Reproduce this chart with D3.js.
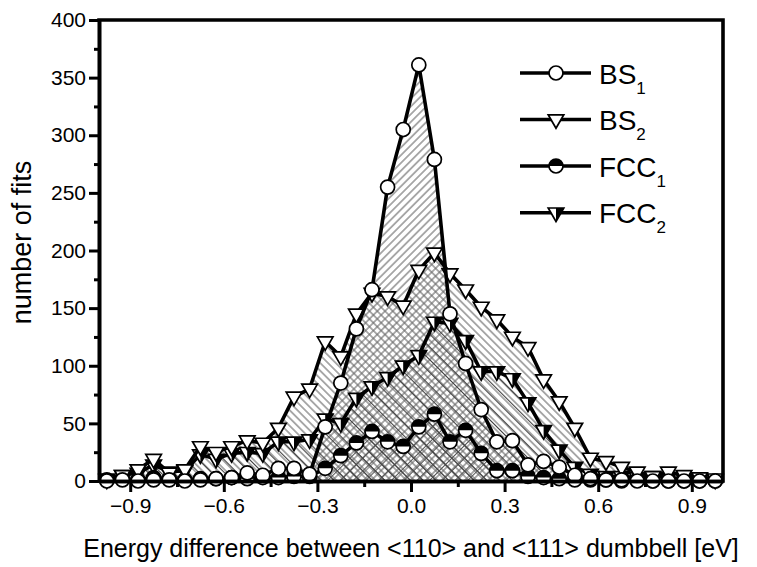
<!DOCTYPE html>
<html>
<head>
<meta charset="utf-8">
<script src="https://cdn.jsdelivr.net/npm/d3@7"></script>
<style>
  html, body { margin: 0; padding: 0; background: #fff; }
  svg { display: block; font-family: "Liberation Sans", Arial, sans-serif; }
</style>
</head>
<body>
<svg id="chart" width="757" height="567"></svg>
<script>
// Bin centres of the energy difference histogram [eV]
const energy = [
  -0.975, -0.925, -0.875, -0.825, -0.775, -0.725, -0.675, -0.625, -0.575, -0.525,
  -0.475, -0.425, -0.375, -0.325, -0.275, -0.225, -0.175, -0.125, -0.075, -0.025,
   0.025,  0.075,  0.125,  0.175,  0.225,  0.275,  0.325,  0.375,  0.425,  0.475,
   0.525,  0.575,  0.625,  0.675,  0.725,  0.775,  0.825,  0.875,  0.925,  0.975
];

// Number of fits per bin for each parametrisation
const bs1 = [
  0, 1, 0, 1, 1, 0, 1, 2, 3, 7,
  5, 11, 11, 6, 47, 85, 132, 166, 255, 305,
  361, 279, 145, 102, 62, 34, 35, 14, 17, 12,
  5, 2, 1, 1, 0, 0, 0, 0, 0, 0
];
const bs2 = [
  1, 5, 10, 19, 7, 10, 30, 25, 30, 35,
  33, 46, 73, 80, 121, 108, 145, 163, 160, 152,
  183, 198, 180, 166, 151, 140, 125, 116, 88, 69,
  46, 20, 17, 12, 8, 4, 8, 5, 3, 2
];
const fcc1 = [
  1, 2, 1, 3, 2, 1, 2, 2, 3, 2,
  3, 3, 4, 4, 11, 22, 33, 43, 34, 30,
  47, 58, 34, 44, 24, 9, 9, 4, 3, 2,
  1, 1, 1, 0, 1, 0, 0, 0, 0, 0
];
const fcc2 = [
  2, 5, 7, 14, 8, 9, 23, 19, 24, 25,
  24, 34, 34, 36, 54, 50, 72, 82, 90, 100,
  109, 138, 137, 122, 95, 95, 89, 68, 44, 27,
  12, 6, 4, 4, 3, 4, 3, 2, 2, 1
];

const seriesNames = ["BS", "BS", "FCC", "FCC"];
const seriesSubs = ["1", "2", "1", "2"];

const xMajorTicks = [-0.9, -0.6, -0.3, 0.0, 0.3, 0.6, 0.9];
const xMinorTicks = [-0.75, -0.45, -0.15, 0.15, 0.45, 0.75];
const yMajorTicks = [0, 50, 100, 150, 200, 250, 300, 350, 400];
const yMinorTicks = [25, 75, 125, 175, 225, 275, 325, 375];

const svg = d3.select("#chart");
const plot = { left: 99, right: 723, top: 20, bottom: 481 };

const x = d3.scaleLinear().domain([-1, 1]).range([plot.left, plot.right]);
const y = d3.scaleLinear().domain([0, 400]).range([plot.bottom, plot.top]);

// Hatch patterns for the areas under each curve
const defs = svg.append("defs");
function hatch(id, angle, spacing, color, width) {
  const p = defs.append("pattern")
    .attr("id", id)
    .attr("patternUnits", "userSpaceOnUse")
    .attr("width", spacing).attr("height", spacing)
    .attr("patternTransform", `rotate(${angle})`);
  p.append("line")
    .attr("x1", 0).attr("y1", spacing / 2)
    .attr("x2", spacing).attr("y2", spacing / 2)
    .attr("stroke", color).attr("stroke-width", width);
}
hatch("hatch-bs1", -45, 5.5, "#6a6a6a", 1.1);
hatch("hatch-bs2", 45, 5.5, "#6a6a6a", 1.1);
hatch("hatch-fcc1a", -45, 9, "#555", 1);
hatch("hatch-fcc1b", 45, 9, "#555", 1);
hatch("hatch-fcc2", 45, 9, "#444", 1.1);

const series = [
  { key: "bs1", values: bs1, fills: ["hatch-bs1"] },
  { key: "bs2", values: bs2, fills: ["hatch-bs2"] },
  { key: "fcc1", values: fcc1, fills: ["hatch-fcc1a", "hatch-fcc1b"] },
  { key: "fcc2", values: fcc2, fills: ["hatch-fcc2"] }
];

const area = d3.area()
  .x((d, i) => x(energy[i]))
  .y0(y(0))
  .y1(d => y(d));
const line = d3.line()
  .x((d, i) => x(energy[i]))
  .y(d => y(d));

const gAreas = svg.append("g");
series.forEach(s => {
  s.fills.forEach(f => {
    gAreas.append("path")
      .attr("d", area(s.values))
      .attr("fill", `url(#${f})`)
      .attr("stroke", "none");
  });
});

// Marker drawing helpers
const R = 7;
const TW = 7.8, TT = 4.7, TB = 8.8;
function drawCircle(g, cx, cy) {
  g.append("circle").attr("cx", cx).attr("cy", cy).attr("r", R)
    .attr("fill", "#fff").attr("stroke", "#000").attr("stroke-width", 1.7);
}
function triPath(cx, cy) {
  return `M${cx - TW},${cy - TT}L${cx + TW},${cy - TT}L${cx},${cy + TB}Z`;
}
function drawTriangle(g, cx, cy) {
  g.append("path").attr("d", triPath(cx, cy))
    .attr("fill", "#fff").attr("stroke", "#000").attr("stroke-width", 1.7);
}
function drawHalfCircle(g, cx, cy) {
  g.append("circle").attr("cx", cx).attr("cy", cy).attr("r", R).attr("fill", "#fff");
  g.append("path")
    .attr("d", `M${cx - R},${cy}A${R},${R} 0 0 1 ${cx + R},${cy}Z`)
    .attr("fill", "#000");
  g.append("circle").attr("cx", cx).attr("cy", cy).attr("r", R)
    .attr("fill", "none").attr("stroke", "#000").attr("stroke-width", 1.7);
}
function drawHalfTriangle(g, cx, cy) {
  g.append("path").attr("d", triPath(cx, cy)).attr("fill", "#fff");
  g.append("path")
    .attr("d", `M${cx},${cy - TT}L${cx + TW},${cy - TT}L${cx},${cy + TB}Z`)
    .attr("fill", "#000");
  g.append("path").attr("d", triPath(cx, cy))
    .attr("fill", "none").attr("stroke", "#000").attr("stroke-width", 1.7);
}
const markers = {
  bs1: drawCircle,
  bs2: drawTriangle,
  fcc1: drawHalfCircle,
  fcc2: drawHalfTriangle
};

// Lines and symbols, back to front
const drawOrder = ["fcc2", "fcc1", "bs2", "bs1"];
drawOrder.forEach(k => {
  const s = series.find(t => t.key === k);
  const g = svg.append("g");
  g.append("path")
    .attr("d", line(s.values))
    .attr("fill", "none").attr("stroke", "#000")
    .attr("stroke-width", 3.6).attr("stroke-linejoin", "round");
  s.values.forEach((v, i) => markers[k](g, x(energy[i]), y(v)));
});

// Axes
const axisW = 3.6;
svg.append("g").attr("transform", `translate(0,${plot.bottom})`)
  .call(d3.axisBottom(x).tickValues(xMajorTicks).tickSize(11).tickSizeOuter(0)
    .tickFormat(d3.format(".1f")).tickPadding(6));
svg.append("g").attr("transform", `translate(0,${plot.bottom})`)
  .call(d3.axisBottom(x).tickValues(xMinorTicks).tickSize(6).tickSizeOuter(0).tickFormat(""));
svg.append("g").attr("transform", `translate(${plot.left},0)`)
  .call(d3.axisLeft(y).tickValues(yMajorTicks).tickSize(10).tickSizeOuter(0).tickPadding(3));
svg.append("g").attr("transform", `translate(${plot.left},0)`)
  .call(d3.axisLeft(y).tickValues(yMinorTicks).tickSize(5).tickSizeOuter(0).tickFormat(""));

svg.selectAll(".domain").attr("stroke", "#000").attr("stroke-width", axisW);
svg.selectAll(".tick line").attr("stroke", "#000").attr("stroke-width", 3);
svg.selectAll(".tick text")
  .attr("fill", "#000")
  .style("font-family", "'Liberation Sans', Arial, sans-serif")
  .style("font-size", "21px");

// Frame on top and right
svg.append("path")
  .attr("d", `M${plot.left},${plot.top}H${plot.right}V${plot.bottom}`)
  .attr("fill", "none").attr("stroke", "#000").attr("stroke-width", axisW)
  .attr("stroke-linecap", "square");

// Axis titles
svg.append("text")
  .attr("x", 411).attr("y", 557)
  .attr("text-anchor", "middle")
  .style("font-size", "25px")
  .text("Energy difference between <110> and <111> dumbbell [eV]");
svg.append("text")
  .attr("transform", `translate(31,${(plot.top + plot.bottom) / 2 - 8}) rotate(-90)`)
  .attr("text-anchor", "middle")
  .style("font-size", "27px")
  .text("number of fits");

// Legend
const legendRows = [73, 119.5, 166, 212.7];
const legendKeys = ["bs1", "bs2", "fcc1", "fcc2"];
legendKeys.forEach((k, i) => {
  const g = svg.append("g");
  const ly = legendRows[i];
  g.append("line").attr("x1", 520).attr("x2", 591).attr("y1", ly).attr("y2", ly)
    .attr("stroke", "#000").attr("stroke-width", 3.6);
  markers[k](g, 556, ly);
  const t = g.append("text").attr("x", 599).attr("y", ly + 10.5)
    .style("font-size", "28px");
  t.append("tspan").text(seriesNames[i]);
  t.append("tspan").attr("dy", 10).style("font-size", "17px").text(seriesSubs[i]);
});
</script>
</body>
</html>
